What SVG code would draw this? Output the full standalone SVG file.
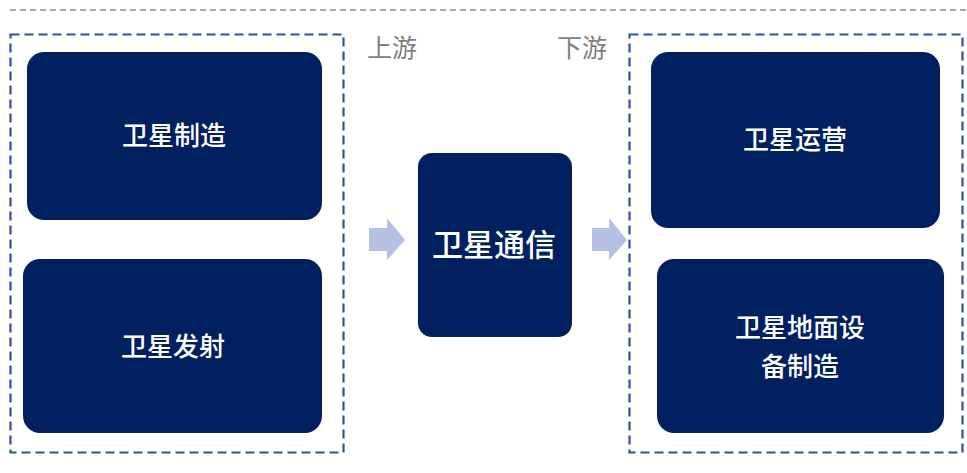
<svg xmlns="http://www.w3.org/2000/svg" width="967" height="473" viewBox="0 0 967 473">
<style>
.frame{fill:none;stroke:#2F5597;stroke-width:2.2;stroke-dasharray:9 5}
.node{fill:#002060}
.t{fill:#fff;font-family:"Noto Sans CJK SC","Noto Sans",sans-serif;font-size:26px;font-weight:500;text-anchor:middle;dominant-baseline:central}
.lbl{fill:#7F7F7F;font-family:"Noto Sans CJK SC","Noto Sans",sans-serif;font-size:25px;text-anchor:middle;dominant-baseline:central}
.arr{fill:#B4C1E2}
</style>
<rect width="967" height="473" fill="#fff"/>
<line x1="10" y1="10" x2="967" y2="10" stroke="#A6A6A6" stroke-width="2" stroke-dasharray="6 4"/>
<g id="upstream">
<rect class="frame" x="10.5" y="34.5" width="333" height="418"/>
<text class="lbl" x="392" y="46">上游</text>
</g>
<g id="downstream">
<rect class="frame" x="629.5" y="34.5" width="333" height="418"/>
<text class="lbl" x="582" y="46">下游</text>
</g>
<g id="n1"><rect class="node" x="27" y="52" width="295" height="168" rx="17"/><text class="t" x="174" y="133">卫星制造</text></g>
<g id="n2"><rect class="node" x="23" y="259" width="299" height="174" rx="17"/><text class="t" x="173" y="344">卫星发射</text></g>
<g id="n3"><rect class="node" x="418" y="153" width="154" height="184" rx="14"/><text class="t" x="494" y="242" style="font-size:31px">卫星通信</text></g>
<g id="n4"><rect class="node" x="651" y="52" width="289" height="176" rx="17"/><text class="t" x="795" y="137">卫星运营</text></g>
<g id="n5"><rect class="node" x="657" y="259" width="287" height="174" rx="17"/><text class="t" x="800" y="325">卫星地面设</text><text class="t" x="800" y="364">备制造</text></g>
<g id="connectors">
<polygon class="arr" points="369,228 387,228 387,218 405,240 387,260 387,251 369,251"/>
<polygon class="arr" points="592,228 609,228 609,218 627,240 609,260 609,251 592,251"/>
</g>
</svg>
